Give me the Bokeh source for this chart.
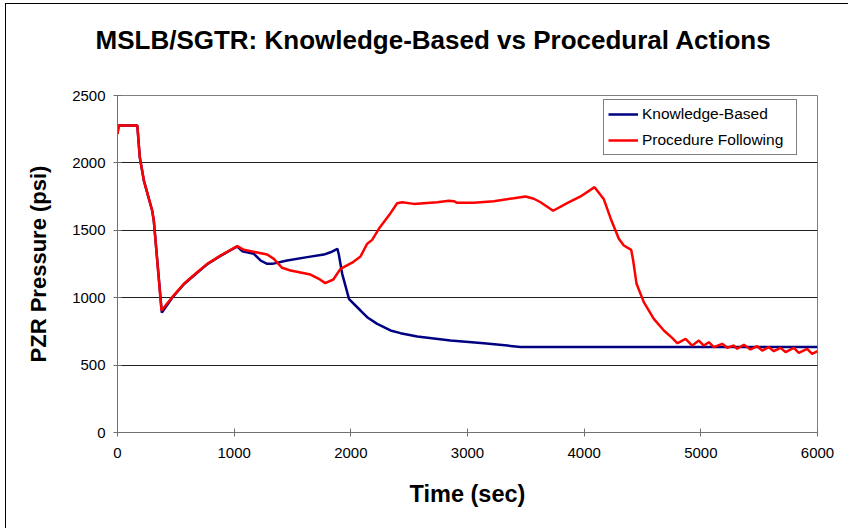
from bokeh.plotting import figure
from bokeh.models import Range1d, FixedTicker, Legend, LegendItem, Title, LinearAxis
from bokeh.embed import file_html
from bokeh.resources import INLINE

# ---- data ----
time_kb = [0, 10, 170, 191, 226, 297, 311, 380, 469, 569, 683, 769, 883, 1026, 1069, 1169, 1226,
           1283, 1326, 1454, 1626, 1769, 1826, 1885, 1897, 1926, 1985, 2083, 2140, 2226, 2340,
           2426, 2569, 2854, 3140, 3454, 6000]
pres_kb = [2216, 2277, 2277, 2042, 1869, 1647, 1573, 890, 1000, 1100, 1185, 1248, 1310, 1380, 1345,
           1326, 1276, 1251, 1251, 1276, 1301, 1320, 1337, 1363, 1320, 1177, 990, 905, 855, 806, 757,
           737, 712, 682, 662, 635, 635]

time_pf = [0, 10, 170, 191, 226, 297, 311, 377, 469, 569, 683, 769, 883, 1026, 1083, 1283, 1340,
           1411, 1483, 1654, 1726, 1780, 1850, 1911, 2011, 2083, 2140, 2183, 2240, 2340, 2397, 2440,
           2540, 2740, 2840, 2883, 2911, 3054, 3226, 3397, 3497, 3569, 3626, 3734, 3854, 3969, 4089,
           4169, 4226, 4297, 4340, 4403, 4420, 4449, 4511, 4597, 4683, 4754, 4800, 4869, 4926, 4983,
           5026, 5069, 5111, 5183, 5226, 5283, 5311, 5369, 5426, 5483, 5526, 5583, 5626, 5683, 5726,
           5797, 5840, 5911, 5954, 6000]
pres_pf = [2216, 2277, 2277, 2042, 1869, 1647, 1573, 905, 1004, 1103, 1189, 1251, 1313, 1382, 1355,
           1320, 1288, 1222, 1202, 1172, 1140, 1108, 1135, 1214, 1260, 1306, 1400, 1429, 1511, 1627,
           1701, 1708, 1696, 1708, 1719, 1716, 1704, 1704, 1716, 1738, 1751, 1734, 1708, 1645, 1701,
           1751, 1820, 1730, 1590, 1437, 1387, 1355, 1276, 1103, 967, 843, 757, 702, 662, 695, 645,
           682, 645, 670, 633, 658, 628, 645, 621, 651, 616, 640, 608, 633, 603, 628, 596, 628, 591,
           621, 584, 603]

x_ticks = [0, 1000, 2000, 3000, 4000, 5000, 6000]
y_ticks = [0, 500, 1000, 1500, 2000, 2500]

series_names = ["Knowledge-Based", "Procedure Following"]
title_text = "MSLB/SGTR: Knowledge-Based vs Procedural Actions"
x_title = "Time (sec)"
y_title = "PZR Pressure (psi)"

FONT = "Liberation Sans"

p = figure(width=843, height=525, output_backend="svg", toolbar_location=None,
           x_range=Range1d(0, 6000), y_range=Range1d(0, 2500),
           min_border_left=111, min_border_right=32, min_border_top=91, min_border_bottom=97,
           background_fill_color="white", border_fill_color="white",
           margin=(3, 0, 0, 5),
           styles={"border-left": "1px solid #000", "border-top": "1px solid #000"})

p.outline_line_color = "#808080"
p.outline_line_width = 1

# axes
for ax in (p.xaxis[0], p.yaxis[0]):
    ax.axis_line_color = "#707070"
    ax.major_tick_line_color = "#707070"
    ax.minor_tick_line_color = None
    ax.major_tick_in = 4
    ax.major_tick_out = 4
    ax.major_label_text_font = FONT
    ax.major_label_text_font_size = "15px"
    ax.major_label_text_color = "black"
    ax.axis_label_text_font = FONT
    ax.axis_label_text_font_style = "bold"
    ax.axis_label_text_color = "black"

p.xaxis.ticker = FixedTicker(ticks=x_ticks)
p.yaxis.ticker = FixedTicker(ticks=y_ticks)
p.xaxis.axis_label = x_title
p.yaxis.axis_label = y_title
p.xaxis.axis_label_text_font_size = "23.5px"
p.yaxis.axis_label_text_font_size = "22px"
p.xaxis.major_label_standoff = 11
p.yaxis.major_label_standoff = 8
p.xaxis.axis_label_standoff = 20
p.yaxis.axis_label_standoff = 18

p.xgrid.grid_line_color = None
p.ygrid.ticker = FixedTicker(ticks=y_ticks)
p.ygrid.grid_line_color = "#202020"
p.ygrid.grid_line_width = 1

# invisible spacer between plot area and title (a hidden top axis)
spacer = LinearAxis(ticker=FixedTicker(ticks=[3000]), major_tick_out=36, major_tick_in=0,
                    major_label_standoff=0, major_label_overrides={3000: ""},
                    axis_line_color=None, major_tick_line_color=None,
                    minor_tick_line_color=None)
p.add_layout(spacer, "above")
p.add_layout(Title(text=title_text, text_font=FONT, text_font_style="bold",
                   text_font_size="26px", text_color="black", align="left",
                   offset=-22, standoff=10), "above")

r_kb = p.line(time_kb, pres_kb, line_color="#000080", line_width=2.5)
r_pf = p.line(time_pf, pres_pf, line_color="#FF0000", line_width=2.5)

legend = Legend(items=[LegendItem(label=series_names[0], renderers=[r_kb]),
                       LegendItem(label=series_names[1], renderers=[r_pf])],
                location=(486, 277))
legend.border_line_color = "#000000"
legend.border_line_width = 1
legend.background_fill_color = "white"
legend.background_fill_alpha = 1
legend.padding = 4
legend.spacing = 6
legend.margin = 0
legend.glyph_width = 30
legend.glyph_height = 20
legend.label_height = 20
legend.label_width = 150
legend.label_standoff = 4
legend.label_text_font = FONT
legend.label_text_font_size = "15.5px"
legend.label_text_color = "black"
p.add_layout(legend)

open("out.html", "w").write(file_html(p, INLINE))
